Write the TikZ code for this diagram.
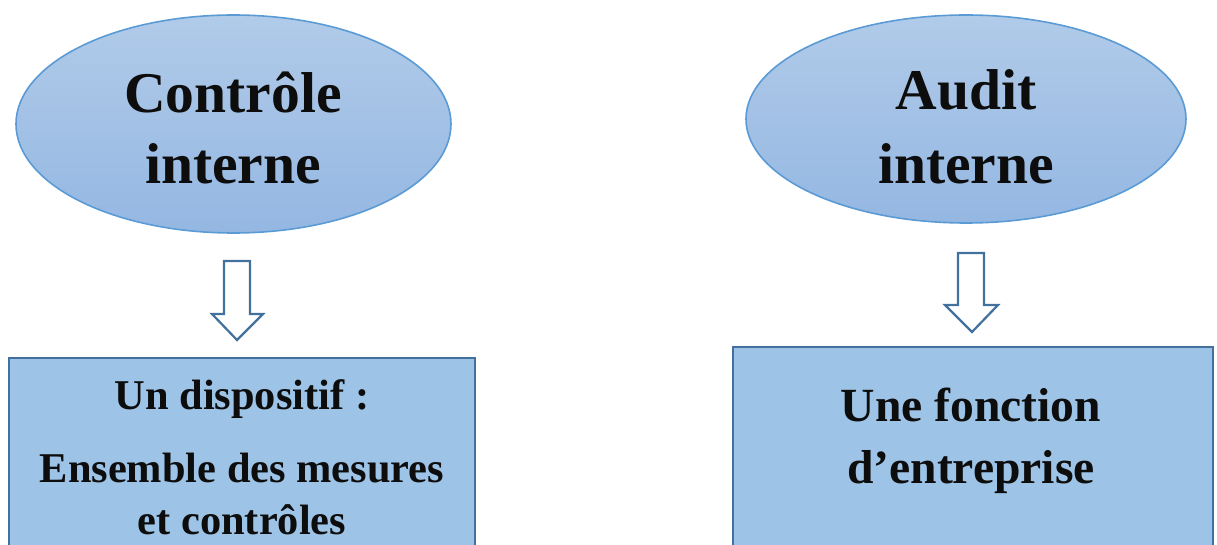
\documentclass[tikz,border=0pt]{standalone}
\usepackage{fontspec}
\setmainfont{Liberation Serif}
\usetikzlibrary{shapes.geometric}
\definecolor{ovaltop}{HTML}{B1CBE9}
\definecolor{ovalbot}{HTML}{94B7E2}
\definecolor{ovalline}{HTML}{5B9BD5}
\definecolor{boxfill}{HTML}{9DC3E6}
\definecolor{boxline}{HTML}{41719C}
\definecolor{ink}{HTML}{0D0D0D}
\tikzset{
  oval/.style={ellipse, draw=ovalline, line width=0.8pt, top color=ovaltop, bottom color=ovalbot, inner sep=0pt},
  panel/.style={draw=boxline, line width=1.1pt, fill=boxfill},
  blockarrow/.style={draw=boxline, line width=1.1pt, fill=white, line join=miter},
  bigword/.style={anchor=base, inner sep=0pt, text=ink, font=\bfseries\fontsize{28.8}{34}\selectfont},
  leftword/.style={anchor=base, inner sep=0pt, text=ink, font=\bfseries\fontsize{21.2}{25}\selectfont},
  rightword/.style={anchor=base, inner sep=0pt, text=ink, font=\bfseries\fontsize{23.8}{28}\selectfont},
}
\begin{document}
\begin{tikzpicture}[x=0.5pt, y=-0.5pt]
\useasboundingbox (0,0) rectangle (1217,545);

% top ovals
\node[oval, minimum width=217.5pt, minimum height=109pt] (ci) at (233.5,124) {};
\node[oval, minimum width=220pt, minimum height=104pt] (ai) at (966,119) {};
\node[bigword] (ci1) at (233,113) {Contrôle};
\node[bigword] (ci2) at (233,184) {interne};
\node[bigword] (ai1) at (966,110) {Audit};
\node[bigword] (ai2) at (966,184) {interne};

% lower panels, running past the bottom edge
\path[panel] (9,358) rectangle (475,560);
\coordinate (lp) at (242,358);
\path[panel] (733,347) rectangle (1213,560);
\coordinate (rp) at (973,347);
\node[leftword] (l1) at (242,410) {Un dispositif :};
\node[leftword] (l2) at (242,483) {Ensemble des mesures};
\node[leftword] (l3) at (242,535) {et contrôles};
\node[rightword] (r1) at (971,422) {Une fonction};
\node[rightword] (r2) at (971,484) {d’entreprise};

% hollow block arrows
\draw[blockarrow] (224,261) -- (250,261) -- (250,314) -- (263,314) -- (237,340)
  -- (212,314) -- (224,314) -- cycle;
\draw[blockarrow] (958,253) -- (984,253) -- (984,305) -- (998,305) -- (972,332)
  -- (945,305) -- (958,305) -- cycle;
\end{tikzpicture}
\end{document}
